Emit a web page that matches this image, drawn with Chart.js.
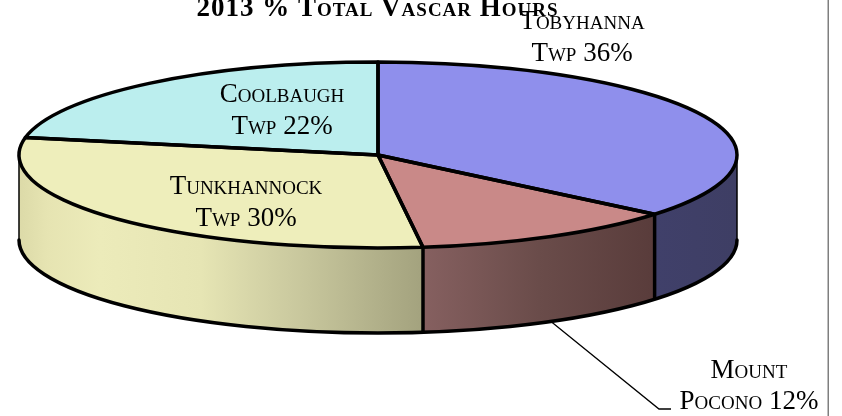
<!DOCTYPE html>
<html>
<head>
<meta charset="utf-8">
<title>2013 % Total Vascar Hours</title>
<script src="https://cdn.jsdelivr.net/npm/chart.js@4"></script>
<style>
  html, body { margin: 0; padding: 0; background: #fff; }
  canvas { display: block; }
</style>
</head>
<body>
<canvas id="pie-chart" width="842" height="416"></canvas>
<script>
const chartTitle = '2013 % Total Vascar Hours';
const categories = ['Tobyhanna Twp', 'Mount Pocono', 'Tunkhannock Twp', 'Coolbaugh Twp'];
const hours = [36, 12, 30, 22];

const topColors = ['#8f8fec', '#c98988', '#eeeebb', '#bbeeee'];
const wallStops = [
  [[0, '#40406a'], [1, '#3e3e64']],
  [[0, '#866060'], [0.5, '#6a4c4a'], [1, '#593c3b']],
  [[0, '#dcdaa8'], [0.07, '#e6e4b2'], [0.2, '#ecebba'], [0.45, '#e6e5b4'], [0.7, '#c8c79d'], [1, '#a3a27e']],
  [[0, '#bbeeee'], [1, '#bbeeee']]
];

// where the text sits: centre x and the two baselines of each label
const labelCentres = [582, 749, 246, 282];
const labelBaselines = [[29, 61], [378, 409], [194, 226], [102, 134]];

const centreX = 378;
const centreY = 155;
const radiusX = 359;
const radiusY = 93;
const wallDepth = 85;
const edgeWidth = 3.5;

function visibleRange(arc) {
  const from = Math.max(arc.startAngle, 0);
  const to = Math.min(arc.endAngle, Math.PI);
  return to > from ? [from, to] : null;
}

function edgePoint(angle, drop) {
  return [centreX + radiusX * Math.cos(angle), centreY + radiusY * Math.sin(angle) + drop];
}

const pieThreeD = {
  id: 'pieThreeD',
  beforeDatasetsDraw(chart) {
    const ctx = chart.ctx;
    const arcs = chart.getDatasetMeta(0).data;

    // side wall, only the part of each slice facing the viewer
    arcs.forEach((arc, i) => {
      const range = visibleRange(arc);
      if (!range) return;
      const left = edgePoint(range[1], 0)[0];
      const right = edgePoint(range[0], 0)[0];
      const gradient = ctx.createLinearGradient(left, 0, right, 0);
      wallStops[i].forEach(stop => gradient.addColorStop(stop[0], stop[1]));
      ctx.beginPath();
      ctx.ellipse(centreX, centreY, radiusX, radiusY, 0, range[0], range[1]);
      ctx.ellipse(centreX, centreY + wallDepth, radiusX, radiusY, 0, range[1], range[0], true);
      ctx.closePath();
      ctx.fillStyle = gradient;
      ctx.fill();
    });

    ctx.strokeStyle = '#000';
    ctx.lineCap = 'butt';
    ctx.lineWidth = 1.5;
    [0, Math.PI].forEach(angle => {
      const p = edgePoint(angle, 0);
      ctx.beginPath();
      ctx.moveTo(p[0], p[1]);
      ctx.lineTo(p[0], p[1] + wallDepth);
      ctx.stroke();
    });

    ctx.lineWidth = edgeWidth;
    arcs.forEach(arc => {
      if (arc.endAngle > 0 && arc.endAngle < Math.PI) {
        const p = edgePoint(arc.endAngle, 0);
        ctx.beginPath();
        ctx.moveTo(p[0], p[1]);
        ctx.lineTo(p[0], p[1] + wallDepth);
        ctx.stroke();
      }
    });
    ctx.lineCap = 'round';
    ctx.beginPath();
    ctx.ellipse(centreX, centreY + wallDepth, radiusX, radiusY, 0, 0, Math.PI);
    ctx.stroke();
    ctx.lineCap = 'butt';

    // squash the library's round pie into the tilted top face
    ctx.save();
    ctx.translate(centreX, centreY);
    ctx.scale(1, radiusY / radiusX);
    ctx.translate(-centreX, -centreY);
  },
  afterDatasetsDraw(chart) {
    const ctx = chart.ctx;
    ctx.restore();

    ctx.strokeStyle = '#000';
    ctx.lineWidth = edgeWidth;
    ctx.lineJoin = 'round';
    chart.getDatasetMeta(0).data.forEach(arc => {
      ctx.beginPath();
      ctx.moveTo(centreX, centreY);
      ctx.ellipse(centreX, centreY, radiusX, radiusY, 0, arc.startAngle, arc.endAngle);
      ctx.closePath();
      ctx.stroke();
    });
  },
  afterDraw(chart) {
    const ctx = chart.ctx;
    const arcs = chart.getDatasetMeta(0).data;

    // frame line on the right
    ctx.fillStyle = '#7f7f7f';
    ctx.fillRect(827.5, 0, 1.5, 416);

    // leader from the Mount Pocono wall to its label
    const anchor = edgePoint((arcs[1].startAngle + arcs[1].endAngle) / 2, wallDepth);
    ctx.strokeStyle = '#000';
    ctx.lineWidth = 1.3;
    ctx.lineJoin = 'miter';
    ctx.beginPath();
    ctx.moveTo(anchor[0], anchor[1]);
    ctx.lineTo(659, 409);
    ctx.lineTo(671, 409);
    ctx.stroke();

    ctx.textAlign = 'center';
    ctx.textBaseline = 'alphabetic';
    ctx.fillStyle = '#000';
    ctx.letterSpacing = '1px';
    ctx.font = 'small-caps bold 27px "Liberation Serif"';
    ctx.fillText(chartTitle, 377.5, 16);
    ctx.letterSpacing = '0px';

    ctx.font = 'small-caps 27px "Liberation Serif"';
    categories.forEach((name, i) => {
      const words = name.split(' ');
      ctx.fillText(words[0], labelCentres[i], labelBaselines[i][0]);
      ctx.fillText(words[1] + ' ' + hours[i] + '%', labelCentres[i], labelBaselines[i][1]);
    });
  }
};

new Chart(document.getElementById('pie-chart'), {
  type: 'pie',
  data: {
    labels: categories,
    datasets: [{
      data: hours,
      backgroundColor: topColors,
      borderWidth: 0,
      radius: radiusX,
      clip: false
    }]
  },
  options: {
    responsive: false,
    animation: false,
    events: [],
    layout: { padding: { left: 0, top: 0, right: 842 - 2 * centreX, bottom: 416 - 2 * centreY } },
    plugins: {
      legend: { display: false },
      tooltip: { enabled: false }
    }
  },
  plugins: [pieThreeD]
});
</script>
</body>
</html>
